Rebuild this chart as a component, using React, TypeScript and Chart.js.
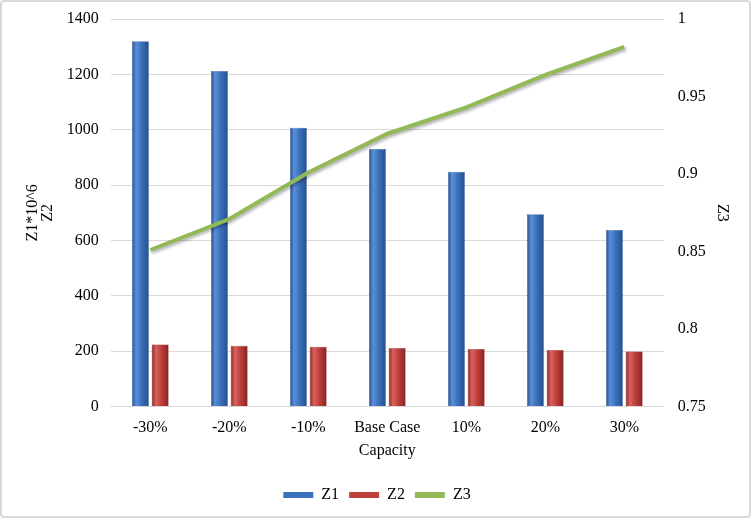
import React, { useEffect, useRef } from "react";
import { Chart, registerables } from "chart.js";

Chart.register(...registerables);

const categories = ["-30%", "-20%", "-10%", "Base Case", "10%", "20%", "30%"];
const z1Values = [1320, 1212, 1007, 930, 848, 695, 638];
const z2Values = [224, 220, 216, 212, 208, 204, 199];
const z3Values = [0.851, 0.871, 0.901, 0.926, 0.943, 0.964, 0.982];
const leftTicks = { min: 0, max: 1400, step: 200 };
const rightTicks = { min: 0.75, max: 1, step: 0.05 };

const FONT = "'Liberation Serif', serif";
const CAT_PCT = 0.5;
const BAR_PCT = 0.86;

function barGradient(base: string, light: string, dark: string, side: number) {
  return (ctx: any) => {
    const chart = ctx.chart;
    const xs = chart.scales?.x;
    if (!xs || !chart.chartArea || ctx.dataIndex === undefined) return base;
    const center = xs.getPixelForValue(ctx.dataIndex);
    const cat = xs.width / categories.length;
    const slot = (cat * CAT_PCT) / 2;
    const cx = center + (side * slot) / 2;
    const w = slot * BAR_PCT;
    const g = chart.ctx.createLinearGradient(cx - w / 2, 0, cx + w / 2, 0);
    g.addColorStop(0, dark);
    g.addColorStop(0.25, light);
    g.addColorStop(0.55, base);
    g.addColorStop(1, dark);
    return g;
  };
}

const shadowPlugin = {
  id: "lineShadow",
  beforeDatasetDraw(chart: any, args: any) {
    if (args.index === 2) {
      const c = chart.ctx;
      c.save();
      c.shadowColor = "rgba(0,0,0,0.3)";
      c.shadowBlur = 3;
      c.shadowOffsetX = 1.5;
      c.shadowOffsetY = 2;
    }
  },
  afterDatasetDraw(chart: any, args: any) {
    if (args.index === 2) chart.ctx.restore();
  },
};

export default function App() {
  const ref = useRef<HTMLCanvasElement | null>(null);
  useEffect(() => {
    document.body.style.margin = "0";
    if (!ref.current) return;
    const chart = new Chart(ref.current, {
      data: {
        labels: categories,
        datasets: [
          {
            type: "bar",
            label: "Z1",
            data: z1Values,
            yAxisID: "y",
            order: 1,
            backgroundColor: barGradient("#3c72bd", "#5b8fd8", "#244f8c", -1),
            borderColor: "#2c5a98",
            borderWidth: 0.5,
            categoryPercentage: CAT_PCT,
            barPercentage: BAR_PCT,
          } as any,
          {
            type: "bar",
            label: "Z2",
            data: z2Values,
            yAxisID: "y",
            order: 1,
            backgroundColor: barGradient("#c0403c", "#da625e", "#862523", 1),
            borderColor: "#8e2a28",
            borderWidth: 0.5,
            categoryPercentage: CAT_PCT,
            barPercentage: BAR_PCT,
          } as any,
          {
            type: "line",
            label: "Z3",
            data: z3Values,
            yAxisID: "y2",
            order: 0,
            borderColor: "#93b956",
            backgroundColor: "#93b956",
            borderWidth: 4,
            pointRadius: 0,
            tension: 0,
          } as any,
        ],
      },
      plugins: [shadowPlugin],
      options: {
        animation: false,
        responsive: false,
        layout: { padding: { top: 1, bottom: 3, left: 10, right: 7 } },
        plugins: {
          legend: {
            position: "bottom",
            labels: {
              font: { family: FONT, size: 16 },
              color: "#000",
              boxWidth: 30,
              boxHeight: 6,
              padding: 10,
              sort: (a: any, b: any) => a.datasetIndex - b.datasetIndex,
              generateLabels: (chart: any) => {
                const fills = ["#3c72bd", "#c0403c", "#93b956"];
                return chart.data.datasets.map((ds: any, i: number) => ({
                  text: ds.label,
                  fillStyle: fills[i],
                  strokeStyle: fills[i],
                  lineWidth: 0,
                  datasetIndex: i,
                  hidden: false,
                  fontColor: "#000",
                }));
              },
            },
          },
          tooltip: { enabled: false },
        },
        scales: {
          x: {
            grid: { display: false },
            border: { display: true, color: "#d9d9d9" },
            ticks: {
              font: { family: FONT, size: 16 },
              color: "#000",
              padding: 4,
              maxRotation: 0,
              autoSkip: false,
            },
            title: {
              display: true,
              text: "Capacity",
              font: { family: FONT, size: 16 },
              color: "#000",
              padding: { top: -1, bottom: 17 },
            },
          },
          y: {
            position: "left",
            min: leftTicks.min,
            max: leftTicks.max,
            ticks: {
              stepSize: leftTicks.step,
              font: { family: FONT, size: 16, lineHeight: 0.375 },
              color: "#000",
              padding: 12,
              callback: (v: any) => String(v),
            },
            grid: { color: "#d9d9d9", drawTicks: false },
            border: { display: false },
            title: {
              display: true,
              text: ["Z1*10^6", "Z2"],
              font: { family: FONT, size: 16, lineHeight: 0.9 },
              color: "#000",
              padding: { top: 14, bottom: 0 },
            },
          },
          y2: {
            position: "right",
            min: rightTicks.min,
            max: rightTicks.max,
            ticks: {
              stepSize: rightTicks.step,
              font: { family: FONT, size: 16, lineHeight: 0.375 },
              color: "#000",
              padding: 14,
              callback: (v: any) => String(Number(Number(v).toFixed(2))),
            },
            grid: { display: false, drawTicks: false },
            border: { display: false },
            title: {
              display: true,
              text: "Z3",
              font: { family: FONT, size: 16 },
              color: "#000",
              padding: { top: 10, bottom: -7 },
            },
          },
        },
      } as any,
    });
    return () => chart.destroy();
  }, []);
  return (
    <div
      style={{
        width: 751,
        height: 518,
        boxSizing: "border-box",
        border: "2px solid #d9d9d9",
        borderRadius: 4,
        background: "#fff",
        position: "relative",
      }}
    >
      <canvas ref={ref} width={747} height={514} style={{ display: "block" }} />
    </div>
  );
}
